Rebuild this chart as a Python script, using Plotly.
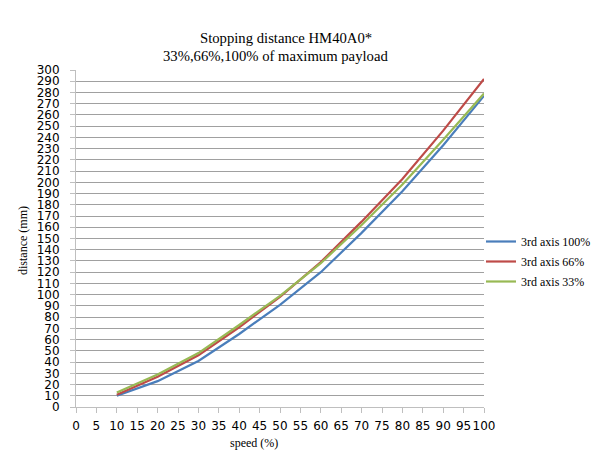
import plotly.graph_objects as go

speed = [10, 20, 30, 40, 50, 60, 70, 80, 90, 100]
dist_100 = [10, 23, 41, 65, 91, 120, 155, 192, 233, 277]
dist_66 = [11, 27, 46, 71, 98, 129, 165, 203, 246, 292]
dist_33 = [13, 29, 48, 73, 99, 128, 162, 198, 238, 279]

series_names = ["3rd axis 100%", "3rd axis 66%", "3rd axis 33%"]
series_colors = ["#4A7EBB", "#BE4B48", "#98B954"]

x_ticks = list(range(0, 101, 5))
y_ticks = list(range(0, 301, 10))

title_main = "Stopping distance HM40A0*"
title_sub = "33%,66%,100% of maximum payload"
x_title = "speed (%)"
y_title = "distance (mm)"

# page has an 8px body margin; lay out in shifted pixel coordinates
OFF = 8
W, H = 600, 465
L, T = 76 - OFF, 70 - OFF
PR, PB = 484 - OFF, 407 - OFF
R, B = W - PR, H - PB
PW, PH = PR - L, PB - T


def px(x):
    return (x - OFF - L) / PW


def py(y):
    return 1 - (y - OFF - T) / PH


fig = go.Figure()
for i, (name, vals, col) in enumerate(zip(series_names, [dist_100, dist_66, dist_33], series_colors)):
    fig.add_trace(go.Scatter(x=speed, y=vals, mode="lines", name=name,
                             legendgroup="g%d" % i,
                             line=dict(color=col, width=2.2)))

serif = "Liberation Serif, Times New Roman, serif"
sans = "DejaVu Sans, Verdana, sans-serif"

fig.update_layout(
    width=W, height=H,
    margin=dict(l=L, r=R, t=T, b=B, pad=0, autoexpand=False),
    paper_bgcolor="white", plot_bgcolor="white",
    showlegend=True,
    legend=dict(x=px(481), xanchor="left",
                y=py(227), yanchor="top",
                font=dict(family=serif, size=12, color="black"),
                bgcolor="rgba(0,0,0,0)", borderwidth=0,
                tracegroupgap=1, itemwidth=30),
    xaxis=dict(range=[0, 100], tickvals=x_ticks, ticktext=[str(v) for v in x_ticks],
               tickangle=0,
               showgrid=False, zeroline=False,
               showline=True, linecolor="#BFBFBF", linewidth=1,
               ticks="outside", ticklen=5, tickcolor="#BFBFBF", tickwidth=1,
               tickfont=dict(family=sans, size=12, color="black"),
               ticklabelstandoff=3, fixedrange=True),
    yaxis=dict(range=[0, 300], tickvals=y_ticks, ticktext=[str(v) for v in y_ticks],
               showgrid=True, gridcolor="#A0A0A0", gridwidth=1, zeroline=False,
               showline=True, linecolor="#BFBFBF", linewidth=1,
               ticks="outside", ticklen=5, tickcolor="#BFBFBF", tickwidth=1,
               tickfont=dict(family=sans, size=12, color="black"),
               ticklabelstandoff=8, fixedrange=True),
    annotations=[
        dict(text=title_main, xref="paper", yref="paper",
             x=px(286), y=py(38),
             xanchor="center", yanchor="middle", showarrow=False,
             font=dict(family=serif, size=14.7, color="black")),
        dict(text=title_sub, xref="paper", yref="paper",
             x=px(275), y=py(56),
             xanchor="center", yanchor="middle", showarrow=False,
             font=dict(family=serif, size=14.7, color="black")),
        dict(text=x_title, xref="paper", yref="paper",
             x=px(254), y=py(443),
             xanchor="center", yanchor="middle", showarrow=False,
             font=dict(family=serif, size=12, color="black")),
        dict(text=y_title, xref="paper", yref="paper",
             x=px(23), y=py(240),
             xanchor="center", yanchor="middle", showarrow=False, textangle=-90,
             font=dict(family=serif, size=12, color="black")),
    ],
)

fig.write_html("out.html")
